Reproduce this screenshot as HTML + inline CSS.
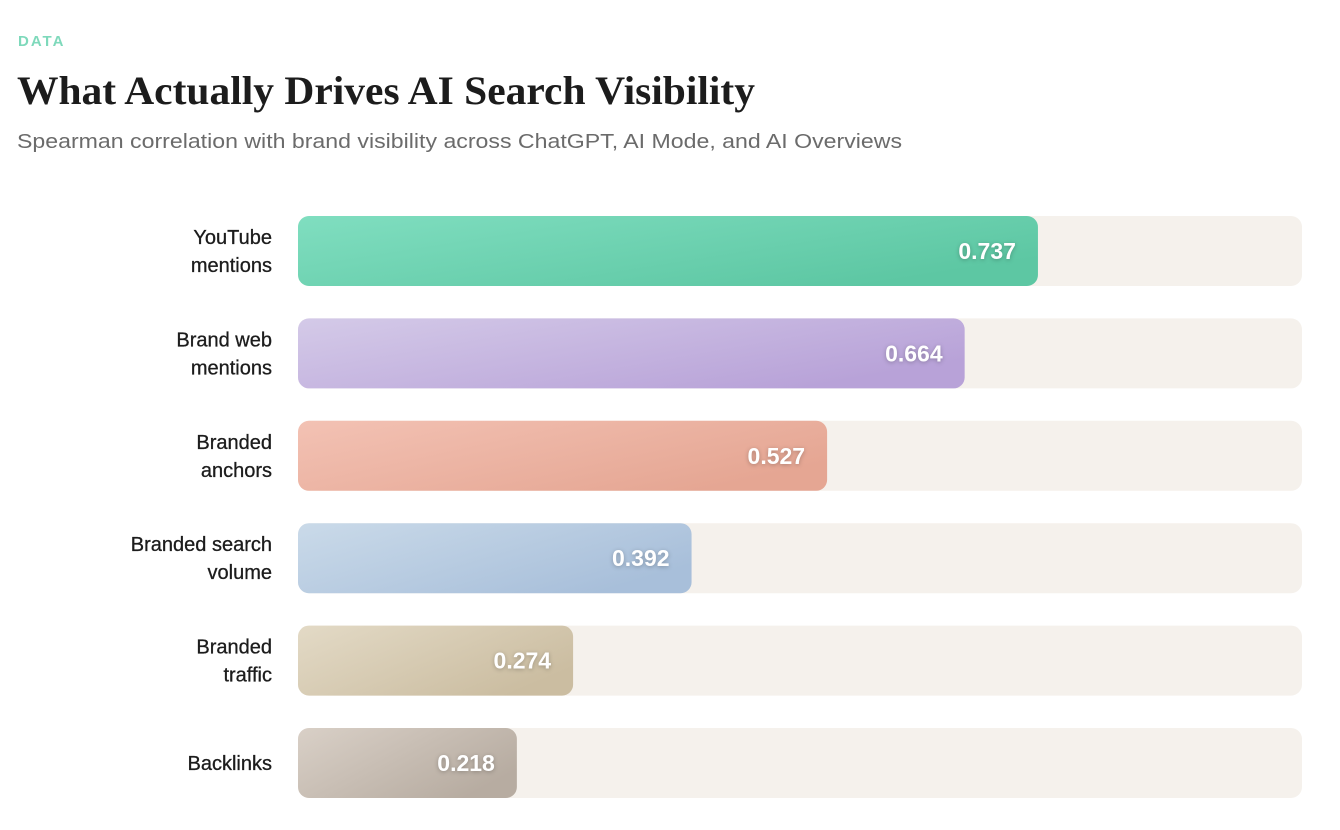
<!DOCTYPE html>
<html><head><meta charset="utf-8"><style>
html,body{margin:0;padding:0;background:#fff;}
svg{display:block;}
</style></head><body>
<svg id="chart" width="1340" height="830" viewBox="0 0 1340 830" xmlns="http://www.w3.org/2000/svg">
<defs id="defs"></defs>
<text x="18" y="46" font-family="Liberation Sans, sans-serif" font-size="15" font-weight="bold" fill="#7ED9BB" letter-spacing="2">DATA</text>
<text x="17" y="104" font-family="Liberation Serif, serif" font-size="40" font-weight="bold" fill="#1c1c1c" textLength="738" lengthAdjust="spacingAndGlyphs">What Actually Drives AI Search Visibility</text>
<text x="17" y="148" font-family="Liberation Sans, sans-serif" font-size="20" fill="#6b6b6b" textLength="885" lengthAdjust="spacingAndGlyphs">Spearman correlation with brand visibility across ChatGPT, AI Mode, and AI Overviews</text>
<g id="bars"></g>
</svg>
<script>
const categories = [["YouTube","mentions"],["Brand web","mentions"],["Branded","anchors"],["Branded search","volume"],["Branded","traffic"],["Backlinks"]];
const values = [0.737,0.664,0.527,0.392,0.274,0.218];
const valueLabels = ["0.737","0.664","0.527","0.392","0.274","0.218"];
const colorsStart = ["#80DEC0","#D4CAE8","#F3C2B4","#CADAE9","#E3DAC6","#D9D0C7"];
const colorsEnd = ["#5DC7A3","#B8A2D8","#E5A693","#A8BFDA","#CBBDA1","#B7ACA1"];
const NS="http://www.w3.org/2000/svg";
const x0=298, trackW=1004, top0=216, pitch=102.4, h=70;
const xs=v=>v*trackW;
const ys=i=>top0+i*pitch;
const defs=document.getElementById('defs'), g=document.getElementById('bars');
function el(t,a,p){const e=document.createElementNS(NS,t);for(const k in a)e.setAttribute(k,a[k]);p.appendChild(e);return e;}
values.forEach((v,i)=>{
  const y=ys(i);
  const gr=el('linearGradient',{id:'g'+i,x1:'0',y1:'0',x2:'1',y2:'0.6'},defs);
  el('stop',{offset:'0','stop-color':colorsStart[i]},gr);
  el('stop',{offset:'1','stop-color':colorsEnd[i]},gr);
  const tr=el('rect',{x:x0,y:y,width:trackW,height:h,rx:11,fill:'#F5F1EC'},g);
  
  
  const b=el('rect',{x:x0,y:y,width:xs(v),height:h,rx:11,fill:'url(#g'+i+')'},g);
  
  
  const t=el('text',{x:x0+xs(v)-22,y:y+h/2+8,'text-anchor':'end','font-family':'Liberation Sans, sans-serif','font-size':'23','font-weight':'bold',fill:'#fff',style:'filter:drop-shadow(0 1px 2px rgba(0,0,0,0.25))'},g);
  t.textContent=valueLabels[i];
  
  
  const lines=categories[i];
  lines.forEach((ln,j)=>{
    const cy=y+h/2+7+(lines.length===2?(j===0?-14:14):0);
    const l=el('text',{x:272,y:cy,'text-anchor':'end','font-family':'Liberation Sans, sans-serif','font-size':'20',fill:'#1c1c1c',stroke:'#1c1c1c','stroke-width':'0.3'},g);
    l.textContent=ln;
    
    
  });
});
</script>
</body></html>
